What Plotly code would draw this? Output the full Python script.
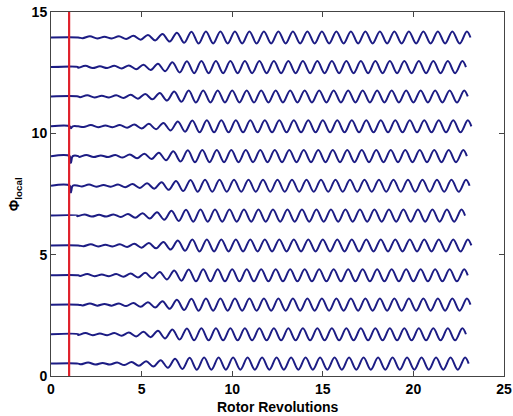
import plotly.graph_objects as go

# ---- data ----
# baseline level of each trace (bottom to top)
baselines = [0.51, 1.72, 2.94, 4.15, 5.38, 6.61, 7.84, 9.06, 10.29, 11.52, 12.73, 13.95]
# x positions of successive extrema (rotor revolutions)
extrema_x = [1.6, 2.0, 2.4, 2.8, 3.2, 3.6, 4.0, 4.4, 4.8, 5.2, 5.6, 6.0, 6.4, 6.8,
             7.2, 7.6, 8.0, 8.4, 8.8, 9.2, 9.6, 10.0, 10.4, 10.8, 11.2, 11.6, 12.0,
             12.4, 12.8, 13.2, 13.6, 14.0, 14.4, 14.8, 15.2, 15.6, 16.0, 16.4, 16.8,
             17.2, 17.6, 18.0, 18.4, 18.8, 19.2, 19.6, 20.0, 20.4, 20.8, 21.2, 21.6,
             22.0, 22.4, 22.8]
# signed deviation from baseline at each extremum
extrema_dy = [-0.03, 0.05, -0.04, 0.03, -0.04, 0.05, -0.06, 0.07, -0.09, 0.10, -0.12,
              0.14, -0.17, 0.20, -0.22, 0.24, -0.25, 0.25, -0.25, 0.25, -0.25, 0.25,
              -0.25, 0.25, -0.25, 0.25, -0.25, 0.25, -0.25, 0.25, -0.25, 0.25, -0.25,
              0.25, -0.25, 0.25, -0.25, 0.25, -0.25, 0.25, -0.25, 0.25, -0.25, 0.25,
              -0.25, 0.25, -0.25, 0.25, -0.25, 0.25, -0.25, 0.25, -0.25, 0.25]
# phase shift of each trace along x (bottom to top)
phase_shift = [0.05, -0.1, 0.15, 0.0, 0.2, -0.15, 0.1, -0.05, 0.2, 0.0, -0.1, 0.15]
# start-up disturbance depth just after the red marker (bottom to top)
glitch_dy = [0, 0, 0, 0, 0, 0, -0.28, -0.28, -0.08, 0, 0, 0]
red_marker_x = 1.0
trace_start_x = 0.0
flat_until_x = 1.5

x_ticks = [0, 5, 10, 15, 20, 25]
y_ticks = [0, 5, 10, 15]
x_title = "<b>Rotor Revolutions</b>"
y_title = "<b>Φ<sub>local</sub></b>"

fig = go.Figure()

for base, shift, g in zip(baselines, phase_shift, glitch_dy):
    xs = [trace_start_x]
    ys = [base]
    if g != 0:
        xs += [1.04, 1.1, 1.2]
        ys += [base, base + g, base]
    xs.append(flat_until_x)
    ys.append(base)
    for ex, ey in zip(extrema_x, extrema_dy):
        xs.append(ex + shift)
        ys.append(base + ey)
    xs.append(extrema_x[-1] + shift + 0.2)
    ys.append(base)
    fig.add_trace(go.Scatter(x=xs, y=ys, mode="lines",
                             line=dict(color="#1c1c84", width=2, shape="spline", smoothing=1.0),
                             showlegend=False, hoverinfo="skip"))

fig.add_trace(go.Scatter(x=[red_marker_x, red_marker_x], y=[0, 15], mode="lines",
                         line=dict(color="#e0202a", width=2.2), showlegend=False,
                         hoverinfo="skip"))

axis_common = dict(showgrid=False, zeroline=False, showline=True, linecolor="#444444",
                   linewidth=1, mirror="ticks", ticks="inside", ticklen=5,
                   tickcolor="#444444", automargin=False,
                   tickfont=dict(family="Liberation Sans, Arial", size=14, color="black",
                                 weight="bold"))

title_font = dict(family="Liberation Sans, Arial", size=14, color="black")

fig.update_layout(
    width=513, height=416,
    margin=dict(l=51, r=9, t=12, b=40),
    paper_bgcolor="white", plot_bgcolor="white",
    xaxis=dict(range=[0, 25], tickvals=x_ticks, ticklabelstandoff=0, **axis_common),
    yaxis=dict(range=[0, 15], tickvals=y_ticks, ticklabelstandoff=0, **axis_common),
    annotations=[
        dict(text=x_title, xref="paper", yref="paper", x=0.5, y=0, yshift=-21,
             xanchor="center", yanchor="top", showarrow=False, font=title_font),
        dict(text=y_title, xref="paper", yref="paper", x=-0.079, y=0.5,
             xanchor="center", yanchor="middle", textangle=-90, showarrow=False,
             font=title_font),
    ],
)

fig.write_html("out.html")
